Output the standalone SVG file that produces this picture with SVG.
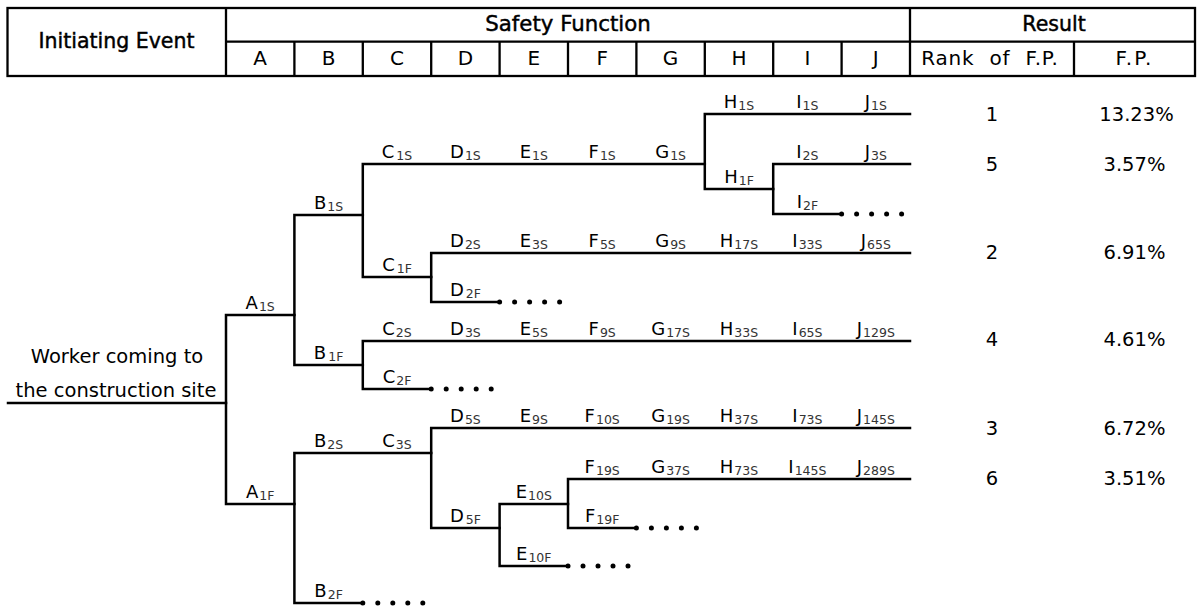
<svg xmlns="http://www.w3.org/2000/svg" width="1197" height="610" viewBox="0 0 1197 610">
  <style>
    text { font-family: "DejaVu Sans", "Liberation Sans", sans-serif; fill: #000; }
    .hd { font-size: 20.5px; text-anchor: middle; stroke: #000; stroke-width: 0.45; }
    .col { font-size: 20px; text-anchor: middle; }
    .body { font-size: 19.5px; text-anchor: middle; }
    .lb { font-size: 18px; text-anchor: middle; }
    .sb { font-size: 12.5px; fill: #333; }
    .grid { fill: none; stroke: #000; stroke-width: 2.3; }
    .branch { fill: none; stroke: #000; stroke-width: 2.5; stroke-linejoin: miter; stroke-linecap: square; }
  </style>
  <defs>
    <circle id="dot" r="2.5" fill="#000"/>
  </defs>
  <rect width="1197" height="610" fill="#fff"/>

  <!-- header table -->
  <g id="header">
    <rect class="grid" x="7.5" y="8" width="1187.5" height="68"/>
    <path class="grid" d="M226 8V76M910 8V76M226 41.7H1195M294.4 41.7V76M362.8 41.7V76M431.2 41.7V76M499.6 41.7V76M568 41.7V76M636.4 41.7V76M704.8 41.7V76M773.2 41.7V76M841.6 41.7V76M1074 41.7V76"/>
    <text class="hd" x="116.5" y="47.5">Initiating Event</text>
    <text class="hd" x="568" y="30.5" style="font-size:21.3px">Safety Function</text>
    <text class="hd" x="1054" y="30.5">Result</text>
    <text class="col" x="260.2" y="65">A</text>
    <text class="col" x="328.6" y="65">B</text>
    <text class="col" x="397" y="65">C</text>
    <text class="col" x="465.4" y="65">D</text>
    <text class="col" x="533.8" y="65">E</text>
    <text class="col" x="602.2" y="65">F</text>
    <text class="col" x="670.6" y="65">G</text>
    <text class="col" x="739" y="65">H</text>
    <text class="col" x="807.4" y="65">I</text>
    <text class="col" x="875.8" y="65">J</text>
    <text class="col" x="990" y="65" style="word-spacing:8px;letter-spacing:0.8px">Rank of F.P.</text>
    <text class="col" x="1134.5" y="65" style="letter-spacing:2px">F.P.</text>
  </g>

  <!-- event tree branches -->
  <g id="connectors">
    <path class="branch" d="M8 403H226"/>
    <path class="branch" d="M294.4 315H226V504H294.4"/>
    <path class="branch" d="M362.8 215H294.4V365H362.8"/>
    <path class="branch" d="M704.8 164H362.8V277H431.2"/>
    <path class="branch" d="M910 114H704.8V189H773.2"/>
    <path class="branch" d="M910 164H773.2V214H841.6"/>
    <path class="branch" d="M910 253H431.2V302H499.6"/>
    <path class="branch" d="M910 341H362.8V389H431.2"/>
    <path class="branch" d="M431.2 453H294.4V603H362.8"/>
    <path class="branch" d="M910 428H431.2V528H499.6"/>
    <path class="branch" d="M568 504H499.6V566H568"/>
    <path class="branch" d="M910 479H568V528H636.4"/>
  </g>

  <!-- truncated branches (continuation dots) -->
  <g id="continuations">
    <use href="#dot" x="841.6" y="214"/><use href="#dot" x="856.6" y="214"/><use href="#dot" x="871.6" y="214"/><use href="#dot" x="886.6" y="214"/><use href="#dot" x="901.6" y="214"/>
    <use href="#dot" x="499.6" y="302"/><use href="#dot" x="514.6" y="302"/><use href="#dot" x="529.6" y="302"/><use href="#dot" x="544.6" y="302"/><use href="#dot" x="559.6" y="302"/>
    <use href="#dot" x="431.2" y="389"/><use href="#dot" x="446.2" y="389"/><use href="#dot" x="461.2" y="389"/><use href="#dot" x="476.2" y="389"/><use href="#dot" x="491.2" y="389"/>
    <use href="#dot" x="636.4" y="528"/><use href="#dot" x="651.4" y="528"/><use href="#dot" x="666.4" y="528"/><use href="#dot" x="681.4" y="528"/><use href="#dot" x="696.4" y="528"/>
    <use href="#dot" x="568" y="566"/><use href="#dot" x="583" y="566"/><use href="#dot" x="598" y="566"/><use href="#dot" x="613" y="566"/><use href="#dot" x="628" y="566"/>
    <use href="#dot" x="362.8" y="603"/><use href="#dot" x="377.8" y="603"/><use href="#dot" x="392.8" y="603"/><use href="#dot" x="407.8" y="603"/><use href="#dot" x="422.8" y="603"/>
  </g>

  <!-- initiating event -->
  <g id="initiating-event">
    <text class="body" x="117" y="363">Worker coming to</text>
    <text class="body" x="116" y="396.5">the construction site</text>
  </g>

  <!-- branch labels -->
  <g id="node-A1S"><text class="lb" x="260.2" y="309">A<tspan class="sb" dx="1" dy="2">1S</tspan></text></g>
  <g id="node-A1F"><text class="lb" x="260.2" y="498">A<tspan class="sb" dx="1" dy="2">1F</tspan></text></g>
  <g id="node-B1S"><text class="lb" x="328.6" y="209">B<tspan class="sb" dx="1" dy="2">1S</tspan></text></g>
  <g id="node-B1F"><text class="lb" x="328.6" y="359">B<tspan class="sb" dx="2" dy="2">1F</tspan></text></g>
  <g id="node-B2S"><text class="lb" x="328.6" y="447">B<tspan class="sb" dx="1" dy="2">2S</tspan></text></g>
  <g id="node-B2F"><text class="lb" x="328.6" y="597">B<tspan class="sb" dx="1" dy="2">2F</tspan></text></g>

  <g id="node-C1S"><text class="lb" x="397" y="158">C<tspan class="sb" dx="2" dy="2">1S</tspan></text></g>
  <g id="node-C1F"><text class="lb" x="397" y="271">C<tspan class="sb" dx="2" dy="2">1F</tspan></text></g>
  <g id="node-C2S"><text class="lb" x="397" y="335">C<tspan class="sb" dx="1" dy="2">2S</tspan></text></g>
  <g id="node-C2F"><text class="lb" x="397" y="383">C<tspan class="sb" dx="1" dy="2">2F</tspan></text></g>
  <g id="node-C3S"><text class="lb" x="397" y="447">C<tspan class="sb" dx="1" dy="2">3S</tspan></text></g>

  <g id="node-D1S"><text class="lb" x="465.4" y="158">D<tspan class="sb" dx="1" dy="2">1S</tspan></text></g>
  <g id="node-D2S"><text class="lb" x="465.4" y="247">D<tspan class="sb" dx="1" dy="2">2S</tspan></text></g>
  <g id="node-D2F"><text class="lb" x="465.4" y="296">D<tspan class="sb" dx="2" dy="2">2F</tspan></text></g>
  <g id="node-D3S"><text class="lb" x="465.4" y="335">D<tspan class="sb" dx="1" dy="2">3S</tspan></text></g>
  <g id="node-D5S"><text class="lb" x="465.4" y="422">D<tspan class="sb" dx="1" dy="2">5S</tspan></text></g>
  <g id="node-D5F"><text class="lb" x="465.4" y="522">D<tspan class="sb" dx="2" dy="2">5F</tspan></text></g>

  <g id="node-E1S"><text class="lb" x="533.8" y="158">E<tspan class="sb" dx="1" dy="2">1S</tspan></text></g>
  <g id="node-E3S"><text class="lb" x="533.8" y="247">E<tspan class="sb" dx="1" dy="2">3S</tspan></text></g>
  <g id="node-E5S"><text class="lb" x="533.8" y="335">E<tspan class="sb" dx="1" dy="2">5S</tspan></text></g>
  <g id="node-E9S"><text class="lb" x="533.8" y="422">E<tspan class="sb" dx="1" dy="2">9S</tspan></text></g>
  <g id="node-E10S"><text class="lb" x="533.8" y="498">E<tspan class="sb" dx="1" dy="2">10S</tspan></text></g>
  <g id="node-E10F"><text class="lb" x="533.8" y="560">E<tspan class="sb" dx="1" dy="2">10F</tspan></text></g>

  <g id="node-F1S"><text class="lb" x="602.2" y="158">F<tspan class="sb" dx="1" dy="2">1S</tspan></text></g>
  <g id="node-F5S"><text class="lb" x="602.2" y="247">F<tspan class="sb" dx="1" dy="2">5S</tspan></text></g>
  <g id="node-F9S"><text class="lb" x="602.2" y="335">F<tspan class="sb" dx="1" dy="2">9S</tspan></text></g>
  <g id="node-F10S"><text class="lb" x="602.2" y="422">F<tspan class="sb" dx="1" dy="2">10S</tspan></text></g>
  <g id="node-F19S"><text class="lb" x="602.2" y="473">F<tspan class="sb" dx="1" dy="2">19S</tspan></text></g>
  <g id="node-F19F"><text class="lb" x="602.2" y="522">F<tspan class="sb" dx="1" dy="2">19F</tspan></text></g>

  <g id="node-G1S"><text class="lb" x="670.6" y="158">G<tspan class="sb" dx="1" dy="2">1S</tspan></text></g>
  <g id="node-G9S"><text class="lb" x="670.6" y="247">G<tspan class="sb" dx="1" dy="2">9S</tspan></text></g>
  <g id="node-G17S"><text class="lb" x="670.6" y="335">G<tspan class="sb" dx="1" dy="2">17S</tspan></text></g>
  <g id="node-G19S"><text class="lb" x="670.6" y="422">G<tspan class="sb" dx="1" dy="2">19S</tspan></text></g>
  <g id="node-G37S"><text class="lb" x="670.6" y="473">G<tspan class="sb" dx="1" dy="2">37S</tspan></text></g>

  <g id="node-H1S"><text class="lb" x="739" y="108">H<tspan class="sb" dx="1" dy="2">1S</tspan></text></g>
  <g id="node-H1F"><text class="lb" x="739" y="183">H<tspan class="sb" dx="1" dy="2">1F</tspan></text></g>
  <g id="node-H17S"><text class="lb" x="739" y="247">H<tspan class="sb" dx="1" dy="2">17S</tspan></text></g>
  <g id="node-H33S"><text class="lb" x="739" y="335">H<tspan class="sb" dx="1" dy="2">33S</tspan></text></g>
  <g id="node-H37S"><text class="lb" x="739" y="422">H<tspan class="sb" dx="1" dy="2">37S</tspan></text></g>
  <g id="node-H73S"><text class="lb" x="739" y="473">H<tspan class="sb" dx="1" dy="2">73S</tspan></text></g>

  <g id="node-I1S"><text class="lb" x="807.4" y="108">I<tspan class="sb" dx="1" dy="2">1S</tspan></text></g>
  <g id="node-I2S"><text class="lb" x="807.4" y="158">I<tspan class="sb" dx="1" dy="2">2S</tspan></text></g>
  <g id="node-I2F"><text class="lb" x="807.4" y="208">I<tspan class="sb" dx="1" dy="2">2F</tspan></text></g>
  <g id="node-I33S"><text class="lb" x="807.4" y="247">I<tspan class="sb" dx="1" dy="2">33S</tspan></text></g>
  <g id="node-I65S"><text class="lb" x="807.4" y="335">I<tspan class="sb" dx="1" dy="2">65S</tspan></text></g>
  <g id="node-I73S"><text class="lb" x="807.4" y="422">I<tspan class="sb" dx="1" dy="2">73S</tspan></text></g>
  <g id="node-I145S"><text class="lb" x="807.4" y="473">I<tspan class="sb" dx="1" dy="2">145S</tspan></text></g>

  <g id="node-J1S"><text class="lb" x="875.8" y="108">J<tspan class="sb" dx="1" dy="2">1S</tspan></text></g>
  <g id="node-J3S"><text class="lb" x="875.8" y="158">J<tspan class="sb" dx="1" dy="2">3S</tspan></text></g>
  <g id="node-J65S"><text class="lb" x="875.8" y="247">J<tspan class="sb" dx="1" dy="2">65S</tspan></text></g>
  <g id="node-J129S"><text class="lb" x="875.8" y="335">J<tspan class="sb" dx="1" dy="2">129S</tspan></text></g>
  <g id="node-J145S"><text class="lb" x="875.8" y="422">J<tspan class="sb" dx="1" dy="2">145S</tspan></text></g>
  <g id="node-J289S"><text class="lb" x="875.8" y="473">J<tspan class="sb" dx="1" dy="2">289S</tspan></text></g>

  <!-- results: rank and frequency of each sequence -->
  <g id="results">
    <text class="body" x="992" y="120.5">1</text><text class="body" x="1136.5" y="120.5">13.23%</text>
    <text class="body" x="992" y="170.5">5</text><text class="body" x="1134.5" y="170.5">3.57%</text>
    <text class="body" x="992" y="259">2</text><text class="body" x="1134.5" y="259">6.91%</text>
    <text class="body" x="992" y="346">4</text><text class="body" x="1134.5" y="346">4.61%</text>
    <text class="body" x="992" y="435">3</text><text class="body" x="1134.5" y="435">6.72%</text>
    <text class="body" x="992" y="485">6</text><text class="body" x="1134.5" y="485">3.51%</text>
  </g>
</svg>
